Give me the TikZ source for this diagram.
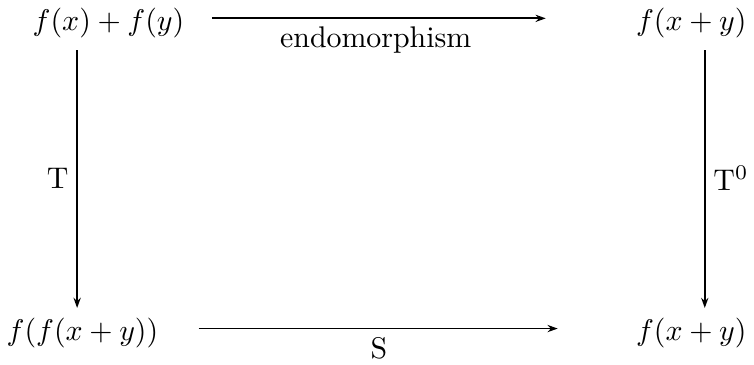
\documentclass[tikz,border=0pt]{standalone}
\usepackage{tikz}
\usetikzlibrary{arrows.meta,positioning}
\tikzset{
  obj/.style={anchor=base, inner sep=3.33pt, font=\normalsize},
  arrow/.style={-{Stealth[length=3.4pt,width=2.4pt]}, line width=0.6pt, black},
  maplabel/.style={font=\normalsize, inner sep=2.6pt}
}
\begin{document}
\begin{tikzpicture}
    \useasboundingbox (0,0) rectangle (8.867,4.292);
    \node[obj] (sum) at (1.276,3.93) {$f(x)+f(y)$};
    \node[obj] (topright) at (8.13,3.93) {$f(x+y)$};
    \node[obj] (nested) at (0.97,0.282) {$f(f(x+y))$};
    \node[obj] (botright) at (8.13,0.282) {$f(x+y)$};
    \draw[arrow, shorten <=5.7pt, shorten >=26.7pt] ([yshift=2pt]sum.mid east) -- ([yshift=2pt]sum.mid east -| topright.mid west)
      node[pos=0.42, below, maplabel] {endomorphism};
    \draw[arrow, shorten <=10pt, shorten >=22.7pt] ([yshift=2pt]nested.mid east) -- ([yshift=2pt]nested.mid east -| botright.mid west)
      node[pos=0.46, below, maplabel] {S};
    \draw[arrow, shorten <=0.5pt] ([xshift=-10.5pt]sum.south) -- ([xshift=-10.5pt]sum.south |- nested.north)
      node[midway, left, maplabel] {T};
    \draw[arrow, shorten <=0.5pt] ([xshift=4.5pt]topright.south) -- ([xshift=4.5pt]topright.south |- botright.north)
      node[midway, right, maplabel] {T$^0$};
\end{tikzpicture}
\end{document}
